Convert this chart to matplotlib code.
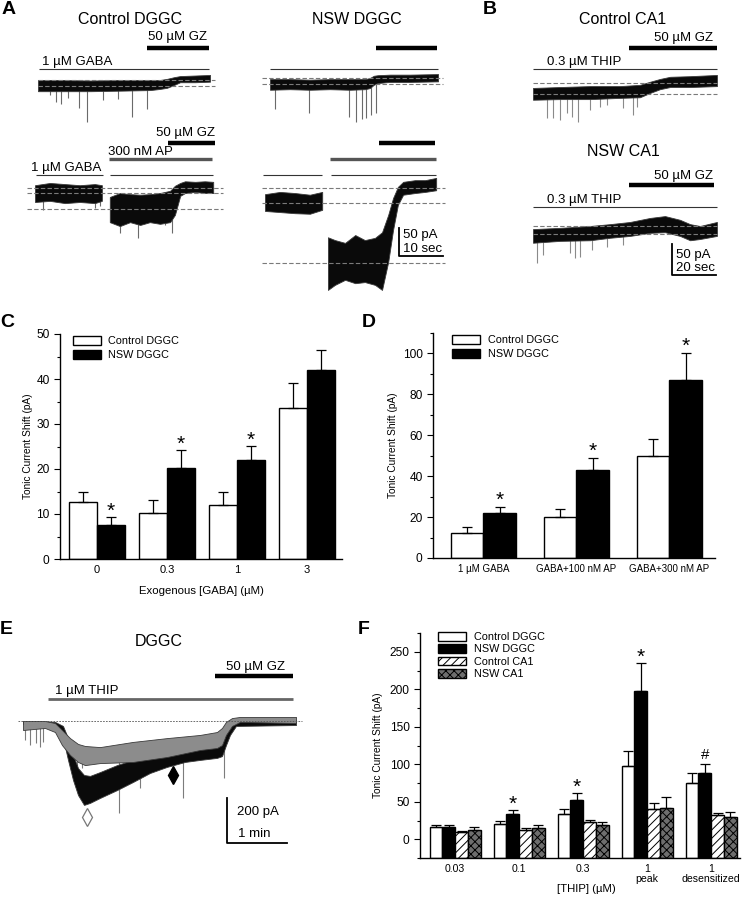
import numpy as np
import matplotlib
matplotlib.use("Agg")
import matplotlib.pyplot as plt
from matplotlib.patches import Patch
from matplotlib.ticker import MultipleLocator

plt.rcParams['font.family'] = ['Liberation Sans', 'DejaVu Sans']
plt.rcParams['hatch.linewidth'] = 0.7
plt.rcParams['axes.linewidth'] = 1.0

W, H = 743, 900

# ===================== panel C data =====================
c_groups = ['0', '0.3', '1', '3']
c_ctrl = [12.7, 10.3, 12.0, 33.5]
c_ctrl_err = [2.3, 2.9, 3.0, 5.7]
c_nsw = [7.5, 20.2, 22.0, 42.0]
c_nsw_err = [1.9, 4.1, 3.2, 4.4]
c_star = [True, True, True, False]

# ===================== panel D data =====================
d_groups = ['1 µM GABA', 'GABA+100 nM AP', 'GABA+300 nM AP']
d_ctrl = [12, 20, 50]
d_ctrl_err = [3, 4, 8]
d_nsw = [22, 43, 87]
d_nsw_err = [3, 6, 13]

# ===================== panel F data =====================
f_groups = ['0.03', '0.1', '0.3', '1\npeak', '1\ndesensitized']
f_ctrl_dg = [17, 21, 34, 98, 75]
f_ctrl_dg_err = [2, 4, 6, 20, 14]
f_nsw_dg = [16, 34, 52, 198, 89]
f_nsw_dg_err = [3, 5, 10, 37, 11]
f_ctrl_ca1 = [10, 13, 23, 41, 32]
f_ctrl_ca1_err = [1, 2.5, 3, 8, 3]
f_nsw_ca1 = [13, 15.5, 19.5, 42, 30]
f_nsw_ca1_err = [3, 3.5, 3.5, 14, 6]
f_mark = ['', '*', '*', '*', '#']

# ===================== panel A traces (s, pA; 0 = GZ level) =====================
# control DGGC, 1 uM GABA
a1_t = [0, 5, 12, 19, 25.5, 27.7, 29.3, 30.9, 32.3, 35.7, 39.1]
a1_hi = [0, 0, -1, 0, 0, 0, 2, 5, 7, 8, 9]
a1_lo = [-20, -20, -20, -19, -18, -16, -14, -9, -4, -4, -3]
a1_spk_t = [2.7, 4.1, 5.2, 6.8, 9.3, 11.1, 14.8, 18.2, 21.4, 24.8]
a1_spk_i = [-27, -39, -43, -32, -50, -75, -36, -34, -66, -52]
a1_levels = [0, -10.7]
# control DGGC, GABA then GABA + 300 nM AP
a2_t1 = [0, 3.4, 6.8, 10.2, 13.6, 15.2]
a2_hi1 = [5, 9, 7, 5, 7, 5]
a2_lo1 = [-25, -23, -27, -25, -27, -23]
a2_t2 = [17.0, 19.3, 21.6, 23.9, 26.1, 28.4, 30.7, 31.8, 33.0, 34.1, 36.4, 38.6, 40.5]
a2_hi2 = [-16, -9, -11, -12, -11, -9, -5, 4, 9, 12, 11, 12, 11]
a2_lo2 = [-61, -68, -61, -66, -61, -64, -61, -48, -14, -9, -7, -9, -9]
a2_spk_t = [1.8, 13.6, 14.8, 19.3, 23.4, 29.5, 31.1]
a2_spk_i = [-39, -36, -32, -80, -89, -66, -80]
a2_levels = [0, -8.9, -37.5]
# NSW DGGC, 1 uM GABA
a3_t = [0, 4.5, 9.1, 13.6, 18.2, 21.6, 22.7, 23.6, 24.5, 27.3, 31.8, 38.2]
a3_hi = [-2, -2, -3, -2, -2, -2, 0, 4, 5, 6, 6, 7]
a3_lo = [-21, -20, -21, -20, -21, -20, -18, -12, -9, -7, -7, -6]
a3_spk_t = [1.1, 8.9, 17.9, 19.5, 20.9, 21.8, 22.9, 24.1]
a3_spk_i = [-55, -62, -70, -79, -73, -71, -66, -62]
a3_levels = [0, -10.7]
# NSW DGGC, GABA then GABA + 300 nM AP
a4_t1 = [0, 3.4, 6.8, 10.2, 13.0]
a4_hi1 = [-11, -7, -9, -12, -7]
a4_lo1 = [-41, -43, -45, -46, -39]
a4_t2 = [14.3, 15.9, 18.2, 20.5, 22.7, 25.0, 26.6, 28.0, 29.1, 30.2, 31.4, 34.1, 36.4, 38.9]
a4_hi2 = [-88, -93, -98, -84, -93, -89, -79, -48, -18, 2, 11, 14, 14, 18]
a4_lo2 = [-182, -173, -164, -170, -168, -173, -182, -132, -75, -30, -12, -9, -7, -4]
a4_levels = [0, -26.8, -133.9]

# ===================== panel B traces =====================
b1_t = [0, 12.3, 25.9, 39.5, 48.6, 53.2, 57.7, 62.3, 71.4, 83.6]
b1_hi = [-8, -6.5, -5, -5, -3, 2, 6.5, 10, 11, 13]
b1_lo = [-27, -26, -26, -24, -23, -16, -10, -6.5, -6.5, -5]
b1_spk_t = [6.4, 9.1, 12.3, 15.5, 17.7, 20.5, 25.9, 30.5, 33.6, 40.9, 45.5, 47.3]
b1_spk_i = [-56, -56, -60, -48, -55, -63, -44, -39, -35, -40, -52, -39]
b1_levels = [0, -17.7]
b2_t = [0, 12.3, 25.9, 35, 44.1, 53.2, 60, 66.8, 71.4, 75.9, 83.6]
b2_hi = [-5, -3, 0, 3, 6.5, 13, 16, 10, 3, 0, 6.5]
b2_lo = [-27, -24, -23, -19, -16, -11, -10, -16, -23, -21, -16]
b2_spk_t = [1.8, 4.5, 16.8, 19.1, 21.4, 26.8, 33.6, 40.9]
b2_spk_i = [-60, -47, -44, -52, -50, -39, -34, -31]
b2_levels = [0, -12.9]

# ===================== panel E traces (1 uM THIP) =====================
e_blk_t = [0, 17, 32, 40, 45, 50, 55, 61, 67, 77, 94, 110, 127, 144, 162, 177, 194, 199, 203, 207, 213, 273]
e_blk_hi = [0, 0, -4, -22, -76, -151, -209, -240, -244, -227, -196, -173, -156, -138, -129, -120, -111, -93, -49, -13, 9, 4]
e_blk_lo = [-13, -22, -31, -76, -173, -262, -329, -373, -364, -342, -307, -271, -231, -204, -182, -173, -164, -156, -107, -62, -22, -18]
e_gry_t = [0, 22, 32, 39, 47, 55, 62, 77, 110, 144, 177, 194, 199, 203, 209, 217, 273]
e_gry_hi = [0, 0, -9, -40, -76, -102, -111, -116, -93, -76, -62, -49, -31, -4, 13, 18, 18]
e_gry_lo = [-40, -31, -49, -107, -151, -182, -196, -187, -182, -160, -129, -120, -107, -62, -22, -4, -9]
e_spk_t = [2, 7, 13, 17, 20, 54, 59, 96, 117, 160, 201]
e_spk_i = [-84, -107, -98, -116, -93, -218, -209, -409, -298, -342, -253]
e_peak = (64, -427)
e_desens = (150, -240)

fig = plt.figure(figsize=(W / 100, H / 100), dpi=100)


def txt(x, y, s, size=9.5, ha='left', va='center', **kw):
    fig.text(x / W, 1 - y / H, s, fontsize=size, ha=ha, va=va, **kw)


def layer(sx, sy):
    # full figure axes: sx px per second, sy px per pA
    ax = fig.add_axes([0, 0, 1, 1])
    ax.set_xlim(0, W / sx)
    ax.set_ylim(-H / sy, 0)
    ax.axis('off')
    ax.patch.set_alpha(0)
    return ax


def band(ax, o, t, hi, lo, color='#0a0a0a', z=3):
    ax.fill_between(o[0] + np.array(t), o[1] + np.array(lo), o[1] + np.array(hi),
                    facecolor=color, edgecolor='#3a3a3a', lw=0.6, zorder=z)


def spikes(ax, o, st, si, t, hi, lo, color='#6a6a6a', z=2):
    mid = (np.array(hi) + np.array(lo)) / 2
    top = np.interp(st, t, mid)
    ax.vlines(o[0] + np.array(st), o[1] + np.array(si), o[1] + top, colors=color, lw=0.8, zorder=z)


def dashed(ax, o, levels, t0, t1, color='#7a7a7a'):
    ax.hlines(o[1] + np.array(levels), o[0] + t0, o[0] + t1, colors=color,
              linestyles=(0, (4, 2)), lw=0.8, zorder=5)


def drug(ax, o, t0, t1, level, lw=0.8, color='#333333'):
    ax.plot([o[0] + t0, o[0] + t1], [o[1] + level] * 2, color=color, lw=lw, solid_capstyle='butt')


def scalebar(ax, o, dt, di):
    ax.plot([o[0], o[0], o[0] + dt], [o[1] + di, o[1], o[1]], color='black', lw=1.3)


# ===================== A =====================
sxA, syA = 4.4, 0.56
axA = layer(sxA, syA)
oA = lambda x, y: (x / sxA, -y / syA)

o = oA(38, 80)
band(axA, o, a1_t, a1_hi, a1_lo)
spikes(axA, o, a1_spk_t, a1_spk_i, a1_t, a1_hi, a1_lo)
dashed(axA, o, a1_levels, 0, 40.2)
drug(axA, o, 0.2, 38.9, 19.6)
drug(axA, o, 24.8, 38.9, 57, lw=3.2, color='black')

o = oA(35, 188)
band(axA, o, a2_t1, a2_hi1, a2_lo1)
band(axA, o, a2_t2, a2_hi2, a2_lo2)
spikes(axA, o, a2_spk_t[:3], a2_spk_i[:3], a2_t1, a2_hi1, a2_lo1)
spikes(axA, o, a2_spk_t[3:], a2_spk_i[3:], a2_t2, a2_hi2, a2_lo2)
dashed(axA, o, a2_levels, -1.8, 42.7)
drug(axA, o, 0.2, 15.5, 23.2)
drug(axA, o, 17.0, 40.5, 23.2)
drug(axA, o, 16.8, 40.2, 51.8, lw=2.4, color='#555555')
drug(axA, o, 30.2, 40.9, 80.4, lw=3.2, color='black')

o = oA(270, 78)
band(axA, o, a3_t, a3_hi, a3_lo)
spikes(axA, o, a3_spk_t, a3_spk_i, a3_t, a3_hi, a3_lo)
dashed(axA, o, a3_levels, -1.8, 39.3)
drug(axA, o, 0, 38.2, 16.1)
drug(axA, o, 24.1, 38.0, 53.6, lw=3.2, color='black')

o = oA(265, 188)
band(axA, o, a4_t1, a4_hi1, a4_lo1)
band(axA, o, a4_t2, a4_hi2, a4_lo2)
dashed(axA, o, a4_levels, -0.7, 40.9)
drug(axA, o, -0.5, 13.0, 23.2)
drug(axA, o, 15.0, 38.9, 23.2)
drug(axA, o, 14.8, 38.9, 51.8, lw=2.4, color='#555555')
drug(axA, o, 25.9, 38.6, 80.4, lw=3.2, color='black')
scalebar(axA, oA(399, 256), 10, 50)

# ===================== B =====================
sxB, syB = 2.2, 0.62
axB = layer(sxB, syB)
oB = lambda x, y: (x / sxB, -y / syB)

o = oB(533, 83)
band(axB, o, b1_t, b1_hi, b1_lo)
spikes(axB, o, b1_spk_t, b1_spk_i, b1_t, b1_hi, b1_lo, color='#8a8a8a')
dashed(axB, o, b1_levels, 0, 83.6)
drug(axB, o, 0, 83.6, 22.6)
drug(axB, o, 43.6, 83.6, 56.5, lw=3.2, color='black')

o = oB(533, 226)
band(axB, o, b2_t, b2_hi, b2_lo)
spikes(axB, o, b2_spk_t, b2_spk_i, b2_t, b2_hi, b2_lo, color='#8a8a8a')
dashed(axB, o, b2_levels, 0, 83.6)
drug(axB, o, 0, 83.6, 30.6)
drug(axB, o, 43.6, 82.3, 66.1, lw=3.2, color='black')
scalebar(axB, oB(672, 275), 20, 50)

# ===================== E =====================
sxE, syE = 1.0, 0.225
axE = layer(sxE, syE)
oE = lambda x, y: (x / sxE, -y / syE)
o = oE(23, 721)
band(axE, o, e_blk_t, e_blk_hi, e_blk_lo, color='#0a0a0a', z=2)
band(axE, o, e_gry_t, e_gry_hi, e_gry_lo, color='#8c8c8c', z=3)
spikes(axE, o, e_spk_t, e_spk_i, e_gry_t, e_gry_hi, e_gry_lo, color='#7c7c7c', z=1)
axE.hlines(o[1], o[0] - 5, o[0] + 279, colors='#555555', linestyles=(0, (2, 1.5)), lw=0.6, zorder=4)
drug(axE, o, 25, 270, 98, lw=2.0, color='#666666')
drug(axE, o, 192, 270, 200, lw=3.2, color='black')
axE.plot(o[0] + e_peak[0], o[1] + e_peak[1], marker='d', ms=9, mfc='white', mec='#777777', mew=0.9)
axE.plot(o[0] + e_desens[0], o[1] + e_desens[1], marker='d', ms=9, mfc='black', mec='black')
scalebar(axE, oE(227, 843), 60, 200)

# ===================== texts for trace panels =====================
for lab, x, y in [('A', 2, 10), ('B', 483, 10), ('C', 0, 323), ('D', 362, 323), ('E', 0, 629), ('F', 358, 629)]:
    txt(x, y, lab, size=14, weight='bold')
txt(130, 20, 'Control DGGC', size=11.5, ha='center')
txt(357, 20, 'NSW DGGC', size=11.5, ha='center')
txt(623, 20, 'Control CA1', size=11.5, ha='center')
txt(623, 151, 'NSW CA1', size=11.5, ha='center')
txt(159, 642, 'DGGC', size=11.5, ha='center')
txt(178, 37, '50 µM GZ', ha='center')
txt(42, 62, '1 µM GABA')
txt(185, 133, '50 µM GZ', ha='center')
txt(108, 152, '300 nM AP')
txt(31, 168, '1 µM GABA')
txt(403, 235, '50 pA')
txt(403, 249, '10 sec')
txt(683, 38, '50 µM GZ', ha='center')
txt(547, 62, '0.3 µM THIP')
txt(683, 176, '50 µM GZ', ha='center')
txt(547, 200, '0.3 µM THIP')
txt(676, 255, '50 pA')
txt(676, 268, '20 sec')
txt(256, 667, '50 µM GZ', ha='center')
txt(55, 691, '1 µM THIP')
txt(237, 812, '200 pA')
txt(238, 834, '1 min')


# ===================== bar panels =====================
def bar_ax(x0, y0, x1, y1):
    ax = fig.add_axes([x0 / W, 1 - y1 / H, (x1 - x0) / W, (y1 - y0) / H])
    ax.patch.set_alpha(0)
    ax.spines['top'].set_visible(False)
    ax.spines['right'].set_visible(False)
    ax.tick_params(axis='y', which='major', length=4, width=0.8, labelsize=8.6)
    ax.tick_params(axis='y', which='minor', length=2.5, width=0.8)
    ax.tick_params(axis='x', length=0, pad=4)
    return ax


def bars(ax, x, vals, errs, w, face, hatch=None, bottom=0):
    v = np.array(vals, float)
    ax.bar(x, v - bottom, w, bottom=bottom, color=face, edgecolor='black', lw=1.0, hatch=hatch, zorder=2)
    ax.errorbar(x, v, yerr=[np.zeros_like(v), errs], fmt='none', ecolor='black',
                elinewidth=0.9, capsize=3.5, capthick=0.9, zorder=3)


def mark(ax, x, y, s, dy, size=15):
    ax.annotate(s, (x, y), xytext=(0, dy), textcoords='offset points', ha='center', va='baseline', fontsize=size)


leg_kw = dict(loc='upper left', frameon=False, fontsize=7.8, handlelength=2.6, handleheight=0.85,
              handletextpad=0.7, borderpad=0, borderaxespad=0)
h_ctrl = Patch(facecolor='white', edgecolor='black', lw=1.0)
h_nsw = Patch(facecolor='black', edgecolor='black', lw=1.0)

# C
axC = bar_ax(60, 334, 342, 559)
x = np.arange(len(c_groups))
w = 0.4
bars(axC, x - w / 2, c_ctrl, c_ctrl_err, w, 'white')
bars(axC, x + w / 2, c_nsw, c_nsw_err, w, 'black')
for i, s in enumerate(c_star):
    if s:
        mark(axC, x[i] + w / 2, c_nsw[i] + c_nsw_err[i], '*', 0)
axC.set_xlim(-0.53, 3.5)
axC.set_ylim(0, 50)
axC.yaxis.set_major_locator(MultipleLocator(10))
axC.yaxis.set_minor_locator(MultipleLocator(5))
axC.set_xticks(x)
axC.set_xticklabels(c_groups, fontsize=8)
axC.set_ylabel('Tonic Current Shift (pA)', fontsize=7.3)
axC.yaxis.set_label_coords(-0.096, 0.5)
axC.set_xlabel('Exogenous [GABA] (µM)', fontsize=8.2)
axC.xaxis.set_label_coords(0.5, -0.12)
axC.legend([h_ctrl, h_nsw], ['Control DGGC', 'NSW DGGC'], bbox_to_anchor=(0.045, 0.99),
           labelspacing=0.35, **leg_kw)

# D
axD = bar_ax(433, 333, 715, 558)
x = np.arange(len(d_groups))
w = 0.35
bars(axD, x - w / 2, d_ctrl, d_ctrl_err, w, 'white')
bars(axD, x + w / 2, d_nsw, d_nsw_err, w, 'black')
for i in range(len(d_groups)):
    mark(axD, x[i] + w / 2, d_nsw[i] + d_nsw_err[i], '*', 1)
axD.set_xlim(-0.54, 2.49)
axD.set_ylim(0, 110)
axD.yaxis.set_major_locator(MultipleLocator(20))
axD.yaxis.set_minor_locator(MultipleLocator(10))
axD.set_xticks(x)
axD.set_xticklabels(d_groups, fontsize=7)
axD.set_ylabel('Tonic Current Shift (pA)', fontsize=7.3)
axD.yaxis.set_label_coords(-0.124, 0.5)
axD.legend([h_ctrl, h_nsw], ['Control DGGC', 'NSW DGGC'], bbox_to_anchor=(0.067, 0.99),
           labelspacing=0.35, **leg_kw)

# F
axF = bar_ax(420, 633, 740, 858)
x = np.arange(len(f_groups))
w = 0.2
fb = -25
bars(axF, x - 1.5 * w, f_ctrl_dg, f_ctrl_dg_err, w, 'white', bottom=fb)
bars(axF, x - 0.5 * w, f_nsw_dg, f_nsw_dg_err, w, 'black', bottom=fb)
bars(axF, x + 0.5 * w, f_ctrl_ca1, f_ctrl_ca1_err, w, 'white', hatch='////', bottom=fb)
bars(axF, x + 1.5 * w, f_nsw_ca1, f_nsw_ca1_err, w, '#6e6e6e', hatch='xxxx', bottom=fb)
for i, s in enumerate(f_mark):
    if s == '*':
        mark(axF, x[i] - 0.5 * w, f_nsw_dg[i] + f_nsw_dg_err[i], '*', 0)
    elif s == '#':
        mark(axF, x[i] - 0.5 * w, f_nsw_dg[i] + f_nsw_dg_err[i], '#', 3.5, size=11)
axF.set_xlim(-0.55, 4.45)
axF.set_ylim(-25, 275)
axF.set_yticks([0, 50, 100, 150, 200, 250])
axF.yaxis.set_minor_locator(MultipleLocator(25))
axF.set_xticks(x)
axF.set_xticklabels(f_groups, fontsize=7.6, linespacing=1.0)
axF.set_ylabel('Tonic Current Shift (pA)', fontsize=7.3)
axF.yaxis.set_label_coords(-0.116, 0.5)
axF.set_xlabel('[THIP] (µM)', fontsize=8.2)
axF.xaxis.set_label_coords(0.52, -0.115)
h_cca1 = Patch(facecolor='white', edgecolor='black', lw=1.0, hatch='////')
h_nca1 = Patch(facecolor='#6e6e6e', edgecolor='black', lw=1.0, hatch='xxxx')
axF.legend([h_ctrl, h_nsw, h_cca1, h_nca1], ['Control DGGC', 'NSW DGGC', 'Control CA1', 'NSW CA1'],
           bbox_to_anchor=(0.056, 1.005), labelspacing=0.22, **leg_kw)

fig.savefig('out.png', dpi=100)
